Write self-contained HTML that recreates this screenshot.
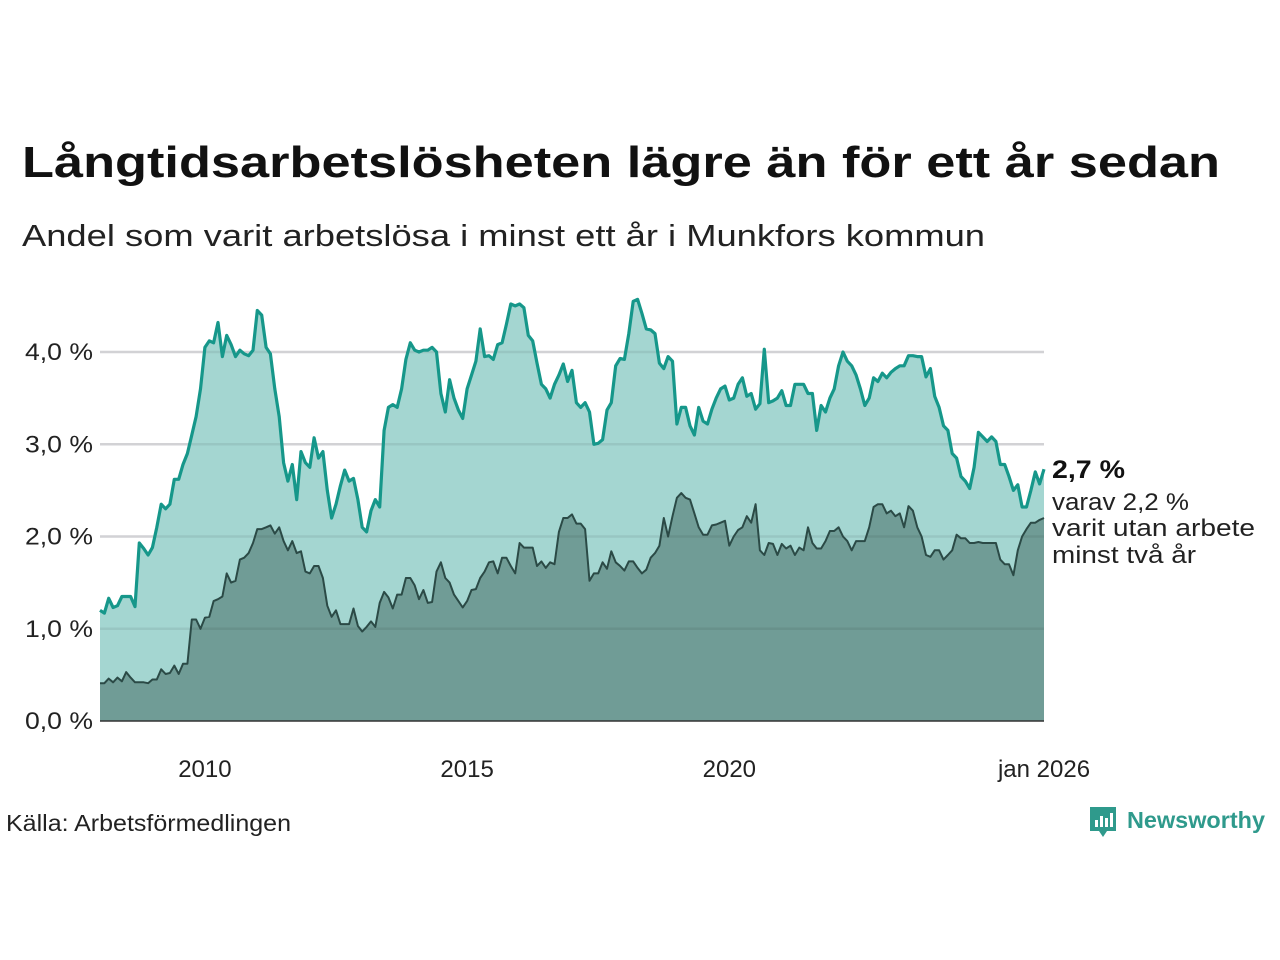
<!DOCTYPE html>
<html><head><meta charset="utf-8"><style>
body{margin:0;background:#fff;}
svg{display:block;font-family:"Liberation Sans",sans-serif;}
</style></head><body>
<svg id="chart" width="1280" height="960">
<text x="22" y="177" font-size="44" font-weight="bold" fill="#111" textLength="1198" lengthAdjust="spacingAndGlyphs">Långtidsarbetslösheten lägre än för ett år sedan</text>
<text x="22" y="246" font-size="31" fill="#222" textLength="963" lengthAdjust="spacingAndGlyphs">Andel som varit arbetslösa i minst ett år i Munkfors kommun</text>
<g id="grid"></g>
<g id="areas"></g>
<g id="yticks"></g>
<g id="xticks"></g>
<text x="1052" y="478" font-size="25" font-weight="bold" fill="#111" textLength="73" lengthAdjust="spacingAndGlyphs">2,7 %</text>
<text x="1052" y="510" font-size="24" fill="#222" textLength="137" lengthAdjust="spacingAndGlyphs">varav 2,2 %</text>
<text x="1052" y="536" font-size="24" fill="#222" textLength="203" lengthAdjust="spacingAndGlyphs">varit utan arbete</text>
<text x="1052" y="563" font-size="24" fill="#222" textLength="144" lengthAdjust="spacingAndGlyphs">minst två år</text>
<text x="6" y="831" font-size="23" fill="#222" textLength="285" lengthAdjust="spacingAndGlyphs">Källa: Arbetsförmedlingen</text>
<g>
<path d="M1090 807 h26 v24 h-9 l-4 6 l-4 -6 h-9 z" fill="#2f9a8c"/>
<rect x="1095" y="820" width="3" height="7" fill="#fff"/><rect x="1100" y="816" width="3" height="11" fill="#fff"/><rect x="1105" y="818" width="3" height="9" fill="#fff"/><rect x="1110" y="813" width="3" height="14" fill="#fff"/>
<text x="1127" y="828" font-size="23" font-weight="bold" fill="#2f9a8c" textLength="138" lengthAdjust="spacingAndGlyphs">Newsworthy</text>
</g>
</svg>
<script>
const total = [
1.2,1.17,1.33,1.23,1.25,1.35,1.35,1.35,1.24,1.93,1.87,1.8,
1.88,2.1,2.35,2.3,2.35,2.62,2.62,2.78,2.9,3.1,3.3,3.6,
4.05,4.12,4.1,4.32,3.95,4.18,4.08,3.95,4.02,3.98,3.96,4.02,
4.45,4.4,4.05,3.98,3.6,3.3,2.8,2.6,2.78,2.4,2.92,2.8,
2.75,3.07,2.85,2.92,2.5,2.2,2.35,2.55,2.72,2.6,2.63,2.4,
2.1,2.05,2.28,2.4,2.32,3.15,3.4,3.43,3.4,3.6,3.92,4.1,
4.02,4.0,4.02,4.02,4.05,4.0,3.55,3.35,3.7,3.5,3.37,3.28,
3.6,3.75,3.9,4.25,3.95,3.96,3.92,4.08,4.1,4.3,4.52,4.5,
4.52,4.48,4.18,4.12,3.88,3.65,3.6,3.5,3.65,3.75,3.87,3.68,
3.8,3.45,3.4,3.45,3.35,3.0,3.01,3.05,3.37,3.45,3.85,3.93,
3.92,4.2,4.55,4.57,4.42,4.25,4.24,4.2,3.88,3.82,3.95,3.9,
3.22,3.4,3.4,3.2,3.1,3.4,3.25,3.22,3.38,3.5,3.6,3.63,
3.48,3.5,3.65,3.72,3.52,3.55,3.38,3.44,4.03,3.45,3.47,3.5,
3.58,3.42,3.42,3.65,3.65,3.65,3.55,3.55,3.15,3.42,3.35,3.5,
3.6,3.85,4.0,3.9,3.85,3.75,3.6,3.42,3.5,3.72,3.68,3.77,
3.72,3.78,3.82,3.85,3.85,3.96,3.96,3.95,3.95,3.73,3.82,3.52,
3.4,3.2,3.15,2.9,2.85,2.65,2.6,2.52,2.75,3.13,3.08,3.03,
3.08,3.03,2.78,2.78,2.65,2.5,2.56,2.32,2.32,2.5,2.7,2.57,
2.73];
const longterm = [
0.41,0.41,0.46,0.42,0.47,0.43,0.53,0.47,0.42,0.42,0.42,0.41,
0.45,0.45,0.56,0.51,0.52,0.6,0.51,0.62,0.62,1.1,1.1,1.0,
1.12,1.13,1.3,1.32,1.35,1.6,1.5,1.52,1.75,1.77,1.82,1.93,
2.08,2.08,2.1,2.12,2.03,2.1,1.95,1.85,1.95,1.82,1.84,1.62,
1.6,1.68,1.68,1.55,1.25,1.13,1.2,1.05,1.05,1.05,1.22,1.03,
0.97,1.02,1.08,1.02,1.28,1.4,1.34,1.22,1.37,1.37,1.55,1.55,
1.47,1.32,1.42,1.28,1.29,1.62,1.72,1.55,1.5,1.37,1.3,1.23,
1.3,1.42,1.43,1.55,1.62,1.72,1.73,1.6,1.77,1.77,1.68,1.6,
1.93,1.88,1.88,1.88,1.68,1.73,1.66,1.72,1.7,2.05,2.2,2.2,
2.24,2.14,2.14,2.08,1.52,1.6,1.6,1.72,1.65,1.84,1.72,1.68,
1.63,1.73,1.73,1.66,1.6,1.64,1.77,1.82,1.9,2.2,2.0,2.22,
2.42,2.47,2.42,2.4,2.25,2.1,2.02,2.02,2.12,2.13,2.15,2.17,
1.9,2.0,2.07,2.1,2.22,2.15,2.35,1.85,1.8,1.93,1.92,1.8,
1.92,1.87,1.9,1.8,1.88,1.85,2.1,1.93,1.87,1.87,1.95,2.06,
2.06,2.1,2.0,1.95,1.85,1.95,1.95,1.95,2.1,2.32,2.35,2.35,
2.25,2.28,2.22,2.25,2.1,2.33,2.28,2.1,2.0,1.8,1.78,1.85,
1.85,1.75,1.8,1.85,2.02,1.98,1.98,1.93,1.93,1.94,1.93,1.93,
1.93,1.93,1.75,1.7,1.7,1.58,1.85,2.0,2.08,2.15,2.15,2.18,
2.2];
const yTicks = [0,1,2,3,4];
const yTickLabels = ["0,0 %","1,0 %","2,0 %","3,0 %","4,0 %"];
const xTickYears = [2010,2015,2020,2026];
const xTickLabels = ["2010","2015","2020","jan 2026"];
const startYear = 2008;

const NS="http://www.w3.org/2000/svg";
const x0=100,x1=1044,yBase=721,pxPerUnit=92.25;
const n=total.length;
const xs=i=>x0+(x1-x0)*i/(n-1);
const xYear=yr=>x0+(x1-x0)*(yr-startYear)/((n-1)/12);
const ys=v=>yBase-v*pxPerUnit;
function mk(tag,attrs,parent){const e=document.createElementNS(NS,tag);for(const k in attrs)e.setAttribute(k,attrs[k]);parent.appendChild(e);return e;}
const grid=document.getElementById('grid'),areas=document.getElementById('areas');
yTicks.forEach((t,i)=>{if(t===0)return;const l=mk('line',{x1:x0,x2:x1,y1:ys(t),y2:ys(t),stroke:'#e2e2e6','stroke-width':2.5},grid);

});
function linePts(arr){return arr.map((v,i)=>xs(i).toFixed(1)+','+ys(v).toFixed(1)).join(' ');}
function areaPts(arr){return x0+','+yBase+' '+linePts(arr)+' '+x1+','+yBase;}
const a1=mk('polygon',{points:areaPts(total),fill:'#a4d6d1'},areas);


const a2=mk('polygon',{points:areaPts(longterm),fill:'#709c96'},areas);


yTicks.forEach(t=>{if(t===0)return;const l=mk('line',{x1:x0,x2:x1,y1:ys(t),y2:ys(t),stroke:'rgba(0,0,0,0.07)','stroke-width':2.5},areas);

});
const l1=mk('polyline',{points:linePts(total),fill:'none',stroke:'#16978a','stroke-width':3.2,'stroke-linejoin':'round'},areas);


const l2=mk('polyline',{points:linePts(longterm),fill:'none',stroke:'#2b4a46','stroke-width':2,'stroke-linejoin':'round'},areas);


const base=mk('line',{x1:x0,x2:x1,y1:yBase,y2:yBase,stroke:'#333','stroke-width':1.5},areas);


const yt=document.getElementById('yticks');
yTicks.forEach((t,i)=>{const e=mk('text',{x:93,y:ys(t)+8,'text-anchor':'end','font-size':24,fill:'#222',textLength:68,lengthAdjust:'spacingAndGlyphs'},yt);e.textContent=yTickLabels[i];

});
const xt=document.getElementById('xticks');
xTickYears.forEach((yr,i)=>{const e=mk('text',{x:xYear(yr),y:777,'text-anchor':'middle','font-size':24,fill:'#222'},xt);e.textContent=xTickLabels[i];

});
</script>
</body></html>
